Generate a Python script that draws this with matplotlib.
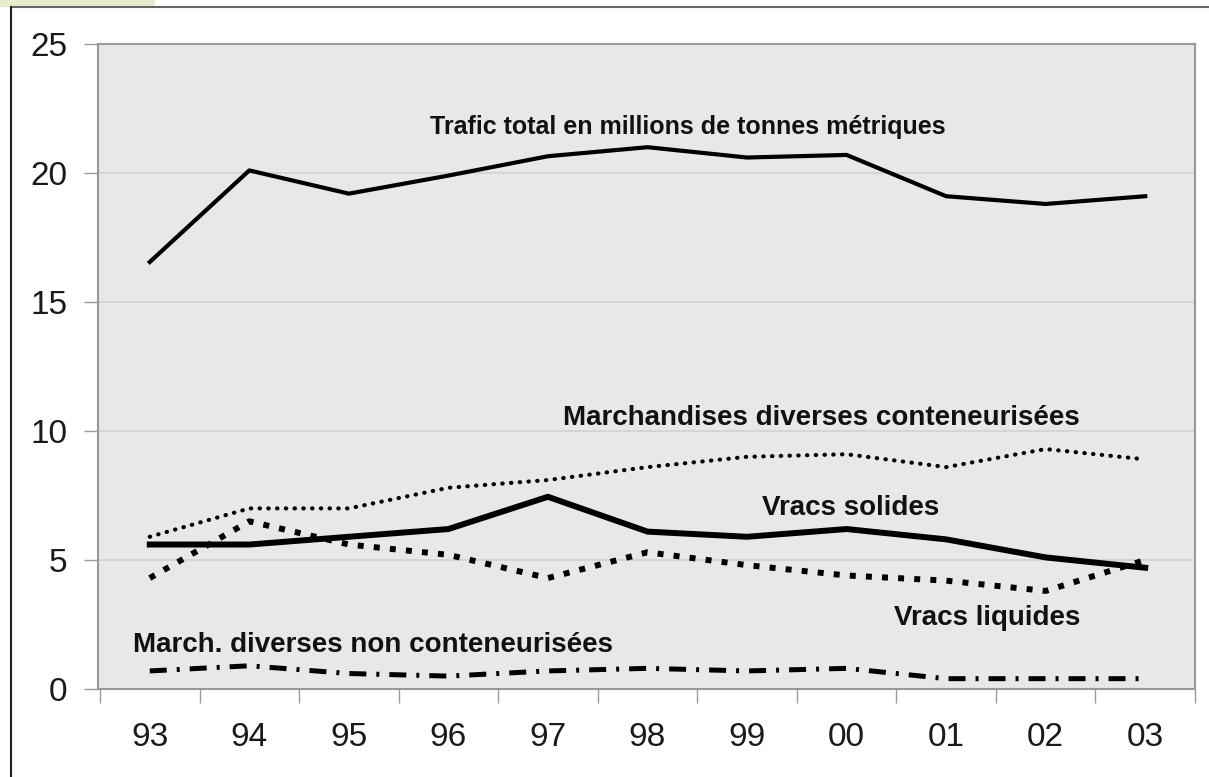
import matplotlib.pyplot as plt
from matplotlib.patches import Rectangle
from matplotlib.lines import Line2D

years = ["93", "94", "95", "96", "97", "98", "99", "00", "01", "02", "03"]
trafic_total = [16.55, 20.1, 19.2, 19.9, 20.65, 21.0, 20.6, 20.7, 19.1, 18.8, 19.1]
conteneurisees = [5.9, 7.0, 7.0, 7.8, 8.1, 8.6, 9.0, 9.1, 8.6, 9.3, 8.9]
vracs_solides = [5.6, 5.6, 5.9, 6.2, 7.45, 6.1, 5.9, 6.2, 5.8, 5.1, 4.7]
vracs_liquides = [4.3, 6.5, 5.6, 5.2, 4.3, 5.3, 4.8, 4.4, 4.2, 3.8, 5.0]
non_conteneurisees = [0.7, 0.9, 0.6, 0.5, 0.7, 0.8, 0.7, 0.8, 0.4, 0.4, 0.4]

plt.rcParams['font.family'] = ['Liberation Sans', 'DejaVu Sans']

fig = plt.figure(figsize=(12.09, 7.77), dpi=100)

# cadre et petit bandeau en haut a gauche
fig.patches.append(Rectangle((0, 1 - 7 / 777), 155 / 1209, 7 / 777, transform=fig.transFigure,
                             facecolor='#e6edcf', edgecolor='none'))
fig.lines.append(Line2D([11 / 1209, 1], [1 - 7 / 777, 1 - 7 / 777], transform=fig.transFigure,
                        color='#666666', lw=1.5))
fig.lines.append(Line2D([11 / 1209, 11 / 1209], [0, 1 - 7 / 777], transform=fig.transFigure,
                        color='#222222', lw=1.5))

ax = fig.add_axes([98 / 1209, 1 - 689 / 777, 1097 / 1209, 645 / 777])
ax.set_facecolor('#e8e8e8')

x = list(range(len(years)))
ax.plot(x, trafic_total, color='black', lw=3.0, solid_joinstyle='round')
ax.plot(x, conteneurisees, color='black', lw=3.0, linestyle=(0, (0.1, 2.0)), dash_capstyle='round')
ax.plot(x, vracs_solides, color='black', lw=4.3)
ax.plot(x, vracs_liquides, color='black', lw=4.3, linestyle=(0, (1, 1.7)))
ax.plot(x, non_conteneurisees, color='black', lw=3.6, linestyle=(0, (3.4, 2, 0.6, 2)))

ax.set_xlim(-0.52, len(years) - 0.55)
ax.set_ylim(0, 25)
ax.set_yticks([0, 5, 10, 15, 20, 25])
ax.set_xticks(x)
ax.set_xticklabels(years)
ax.set_xticks([i - 0.5 for i in range(len(years) + 1)], minor=True)
ax.tick_params(axis='x', which='major', length=0, pad=24, labelsize=24, labelcolor='#1a1a1a')
ax.tick_params(axis='x', which='minor', length=10, color='#999999', width=1)
ax.tick_params(axis='y', length=10, color='#999999', width=1, pad=12, labelsize=24, labelcolor='#1a1a1a')

ax.grid(axis='y', color='#d2d2d2', lw=1.2)
ax.set_axisbelow(True)
for side in ['left', 'bottom', 'top', 'right']:
    ax.spines[side].set_color('#999999')
    ax.spines[side].set_linewidth(1.5)

lab = dict(fontsize=20, fontweight='bold', color='#111111', va='baseline')
ax.text(2.82, 21.5, "Trafic total en millions de tonnes métriques",
        **{**lab, 'fontsize': 18})
ax.text(4.15, 10.23, "Marchandises diverses conteneurisées", **lab)
ax.text(6.15, 6.74, "Vracs solides", **lab)
ax.text(7.48, 2.48, "Vracs liquides", **lab)
ax.text(-0.17, 1.43, "March. diverses non conteneurisées", **lab)

fig.savefig("out.png", dpi=100)
